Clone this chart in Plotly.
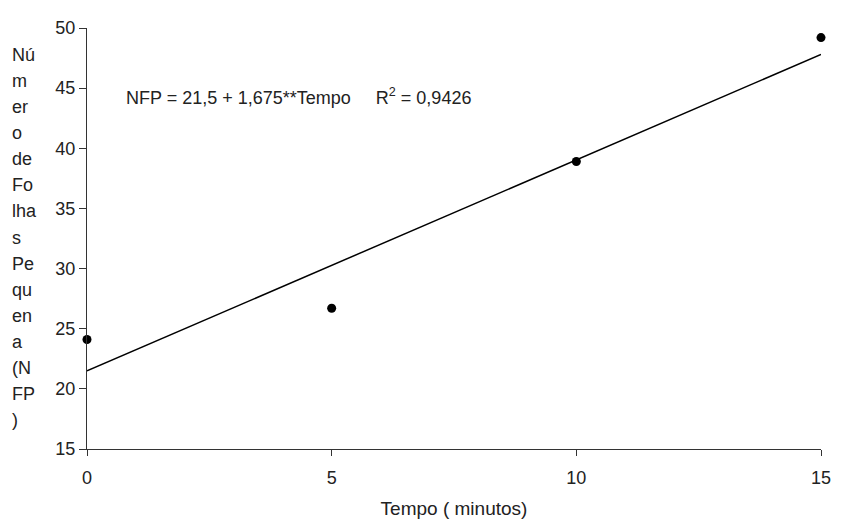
import plotly.graph_objects as go

tempo = [0, 5, 10, 15]
nfp = [24.1, 26.7, 38.9, 49.2]
trend_x = [0, 15]
trend_y = [21.5, 47.8]
x_ticks = [0, 5, 10, 15]
y_ticks = [15, 20, 25, 30, 35, 40, 45, 50]
ylabel_lines = ["Nú", "m", "er", "o", "de", "Fo", "lha", "s", "Pe", "qu", "en", "a", "(N", "FP", ")"]
equation = "NFP = 21,5 + 1,675**Tempo     R<sup>2</sup> = 0,9426"
xlabel = "Tempo ( minutos)"

FONT = "Liberation Sans, Arial, sans-serif"
W, H = 843, 527
L, R, T, B = 87, 18, 28, 75

fig = go.Figure()
fig.add_trace(go.Scatter(x=trend_x, y=trend_y, mode="lines",
                         line=dict(color="black", width=1.5), showlegend=False))
fig.add_trace(go.Scatter(x=tempo, y=nfp, mode="markers",
                         marker=dict(color="black", size=9), showlegend=False,
                         cliponaxis=False))

fig.update_layout(
    width=W, height=H,
    margin=dict(l=L, r=R, t=T, b=B),
    plot_bgcolor="white", paper_bgcolor="white",
    font=dict(family=FONT, size=18, color="#222"),
    xaxis=dict(range=[0, 15], tickvals=x_ticks, ticks="outside", ticklen=6,
               tickcolor="#333", showline=True, linecolor="#333", linewidth=1.2,
               showgrid=False, zeroline=False, tickfont=dict(size=18),
               ticklabelstandoff=6,
               title=dict(text=xlabel, font=dict(size=19), standoff=14)),
    yaxis=dict(range=[15, 50], tickvals=y_ticks, ticks="outside", ticklen=7,
               tickcolor="#333", showline=True, linecolor="#333", linewidth=1.2,
               showgrid=False, zeroline=False, tickfont=dict(size=18)),
)

fig.add_annotation(text=equation, xref="x", yref="y", x=0.75, y=44.3,
                   xanchor="left", yanchor="middle", showarrow=False,
                   font=dict(size=18, color="#222"))

plot_w = W - L - R
plot_h = H - T - B
top_px, step_px = 55, 26.3
for i, s in enumerate(ylabel_lines):
    ypx = top_px + i * step_px
    fig.add_annotation(text=s, xref="paper", yref="paper",
                       x=(10 - L) / plot_w, y=(H - B - ypx) / plot_h,
                       xanchor="left", yanchor="middle", showarrow=False,
                       font=dict(size=18, color="#222"))

fig.write_html("out.html")
